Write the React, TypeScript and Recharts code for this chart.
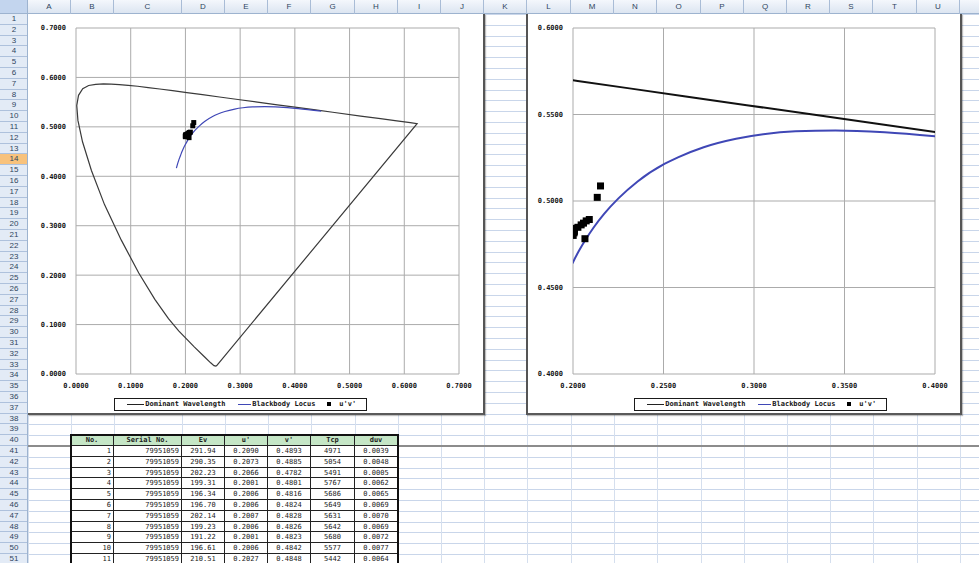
import React from 'react';
import { ScatterChart, Scatter, XAxis, YAxis, CartesianGrid, Legend } from 'recharts';

// ---- Spectral locus ("Dominant Wavelength") in CIE 1976 u'v'
const locusNm = [380, 400, 420, 430, 440, 450, 460, 465, 470, 475, 480, 485, 490, 495, 500, 505, 510, 515, 520, 525, 530, 535, 540, 545, 550, 555, 560, 565, 570, 575, 580, 585, 590, 595, 600, 605, 610, 620, 630, 640, 660, 700, 380];
const locusU = [0.2568, 0.2557, 0.2522, 0.2461, 0.2347, 0.2161, 0.1877, 0.1690, 0.1441, 0.1147, 0.0828, 0.0521, 0.0282, 0.0119, 0.0035, 0.0014, 0.0046, 0.0123, 0.0231, 0.0360, 0.0501, 0.0643, 0.0792, 0.0953, 0.1127, 0.1319, 0.1531, 0.1766, 0.2026, 0.2312, 0.2623, 0.2960, 0.3315, 0.3681, 0.4035, 0.4379, 0.4692, 0.5203, 0.5565, 0.5830, 0.6109, 0.6234, 0.2568];
const locusV = [0.0166, 0.0159, 0.0169, 0.0226, 0.0350, 0.0549, 0.0871, 0.1119, 0.1510, 0.2044, 0.2708, 0.3427, 0.4117, 0.4698, 0.5131, 0.5432, 0.5638, 0.5770, 0.5837, 0.5861, 0.5868, 0.5865, 0.5856, 0.5841, 0.5821, 0.5795, 0.5766, 0.5732, 0.5694, 0.5651, 0.5604, 0.5554, 0.5501, 0.5446, 0.5393, 0.5342, 0.5296, 0.5219, 0.5165, 0.5125, 0.5084, 0.5065, 0.0166];

// ---- Blackbody (Planckian) locus
const planckK = [20000, 15000, 12000, 10000, 9000, 8000, 7000, 6500, 6000, 5500, 5000, 4500, 4000, 3500, 3000, 2800, 2500, 2200, 2000, 1800, 1600, 1400, 1200, 1000];
const planckU = [0.1835, 0.1854, 0.1877, 0.1903, 0.1921, 0.1946, 0.1981, 0.2004, 0.2033, 0.2069, 0.2114, 0.2173, 0.2251, 0.2357, 0.2505, 0.2583, 0.2722, 0.2901, 0.3051, 0.3229, 0.3450, 0.3722, 0.4060, 0.4481];
const planckV = [0.4164, 0.4241, 0.4321, 0.4400, 0.4454, 0.4521, 0.4606, 0.4655, 0.4712, 0.4776, 0.4847, 0.4927, 0.5015, 0.5113, 0.5214, 0.5254, 0.5311, 0.5360, 0.5386, 0.5403, 0.5408, 0.5398, 0.5369, 0.5319];

// ---- Measurement table
const tableHeaders = ['No.', 'Serial No.', 'Ev', "u'", "v'", 'Tcp', 'duv'];
const tableNo = [1, 2, 3, 4, 5, 6, 7, 8, 9, 10, 11];
const tableSerial = ['79951059', '79951059', '79951059', '79951059', '79951059', '79951059', '79951059', '79951059', '79951059', '79951059', '79951059'];
const tableEv = ['291.94', '290.35', '202.23', '199.31', '196.34', '196.70', '202.14', '199.23', '191.22', '196.61', '210.51'];
const tableU = [0.2090, 0.2073, 0.2066, 0.2001, 0.2006, 0.2006, 0.2007, 0.2006, 0.2001, 0.2006, 0.2027];
const tableV = [0.4893, 0.4885, 0.4782, 0.4801, 0.4816, 0.4824, 0.4828, 0.4826, 0.4823, 0.4842, 0.4848];
const tableTcp = [4971, 5054, 5491, 5767, 5686, 5649, 5631, 5642, 5680, 5577, 5442];
const tableDuv = [0.0039, 0.0048, 0.0005, 0.0062, 0.0065, 0.0069, 0.0070, 0.0069, 0.0072, 0.0077, 0.0064];

// further samples (rows below the visible part of the table)
const extraU = [0.1997, 0.2045, 0.2058, 0.2134, 0.2152];
const extraV = [0.4812, 0.4862, 0.4872, 0.5021, 0.5087];

// ---- Axis ticks
const fullTicks = [0, 0.1, 0.2, 0.3, 0.4, 0.5, 0.6, 0.7];
const zoomXTicks = [0.2, 0.25, 0.3, 0.35, 0.4];
const zoomYTicks = [0.4, 0.45, 0.5, 0.55, 0.6];

// ---- Legend order
const legendOrder = ['Dominant Wavelength', 'Blackbody Locus', "u'v'"];

// ---- Sheet
const colLetters = ['A', 'B', 'C', 'D', 'E', 'F', 'G', 'H', 'I', 'J', 'K', 'L', 'M', 'N', 'O', 'P', 'Q', 'R', 'S', 'T', 'U'];
const colEdges = [28, 71, 114, 182, 225, 268, 311, 355, 398, 441, 484, 527, 571, 614, 657, 701, 744, 787, 830, 873, 917, 960, 1003];

const locusData = locusNm.map((nm, i) => ({ nm, u: locusU[i], v: locusV[i] }));
const planckData = planckK.map((k, i) => ({ k, u: planckU[i], v: planckV[i] }));
const pointData = [
  ...tableU.map((u, i) => ({ u, v: tableV[i] })),
  ...extraU.map((u, i) => ({ u, v: extraV[i] })),
];

const mono = "'DejaVu Sans Mono', 'Liberation Mono', monospace";
const sans = "'Liberation Sans', Arial, sans-serif";
const ROW_TOP = 14;
const ROW_H = 10.8;
const fmt = (v: number) => v.toFixed(4);
const tickStyle = { fontSize: 7, fontFamily: mono, fontWeight: 700, fill: '#151515' };
const BLUE = '#3f47b6';

const NoShape = () => <g />;

const makeSquare = (s: number) => (p: any) => (
  <rect x={p.cx - s / 2} y={p.cy - s / 2} width={s} height={s} fill="#000" />
);

const LegendBox = (props: any) => {
  const items = [...(props.payload || [])].sort(
    (a: any, b: any) => legendOrder.indexOf(a.value) - legendOrder.indexOf(b.value)
  );
  const defs = [
    { x1: 12, x2: 29, tx: 30, color: '#222' },
    { x1: 123, x2: 136, tx: 137, color: BLUE },
    { x1: 214, x2: 214, tx: 224, color: '#000' },
  ];
  return (
    <div style={{ position: 'relative', width: 253, height: 13, border: '1px solid #1a1a1a', boxSizing: 'border-box', background: '#fff', fontFamily: mono, fontSize: 7, fontWeight: 700, color: '#151515' }}>
      {items.map((it: any, i: number) => {
        const d = defs[i] || defs[0];
        return (
          <React.Fragment key={i}>
            {i < 2 ? (
              <div style={{ position: 'absolute', left: d.x1, width: d.x2 - d.x1, top: 5, height: 1, background: d.color }} />
            ) : (
              <div style={{ position: 'absolute', left: d.x1 - 2, top: 3.5, width: 4, height: 4, background: d.color }} />
            )}
            <div style={{ position: 'absolute', left: d.tx, top: 1, lineHeight: '9px', whiteSpace: 'pre' }}>{it.value}</div>
          </React.Fragment>
        );
      })}
    </div>
  );
};

type ChartProps = {
  left: number; width: number; yWidth: number; plotW: number;
  xDomain: [number, number]; yDomain: [number, number];
  xTicks: number[]; yTicks: number[];
  legendLeft: number; lineW: number; darkColor: string; marker: number;
  leftBorder: boolean;
};

const CieChart = (c: ChartProps) => (
  <div style={{ position: 'absolute', left: c.left, top: ROW_TOP, width: c.width, height: 399, background: '#fff', borderRight: '2px solid #555', borderBottom: '2px solid #5a5a5a', borderLeft: c.leftBorder ? '2px solid #555' : 'none', boxShadow: '1px 1px 1px rgba(0,0,0,0.25)', zIndex: 2 }}>
    <ScatterChart width={c.width} height={399} margin={{ top: 14, right: c.width - c.yWidth - c.plotW, bottom: 13, left: 0 }}>
      <CartesianGrid stroke="#ababab" strokeWidth={1} />
      <XAxis type="number" dataKey="u" domain={c.xDomain} ticks={c.xTicks} interval={0} allowDataOverflow axisLine={false} tickLine={false} tickSize={0} tickMargin={9.5} height={26} tick={tickStyle} tickFormatter={fmt} />
      <YAxis type="number" dataKey="v" domain={c.yDomain} ticks={c.yTicks} interval={0} allowDataOverflow axisLine={false} tickLine={false} tickSize={0} tickMargin={10} width={c.yWidth} tick={tickStyle} tickFormatter={fmt} />
      <Scatter name="Dominant Wavelength" data={locusData} fill={c.darkColor} line={{ stroke: c.darkColor, strokeWidth: c.lineW }} lineJointType="linear" shape={NoShape} legendType="line" isAnimationActive={false} />
      <Scatter name="Blackbody Locus" data={planckData} fill={BLUE} line={{ stroke: BLUE, strokeWidth: c.lineW }} lineJointType="monotoneX" shape={NoShape} legendType="line" isAnimationActive={false} />
      <Scatter name="u'v'" data={pointData} fill="#000" shape={makeSquare(c.marker)} legendType="square" isAnimationActive={false} />
      <Legend layout="horizontal" verticalAlign="middle" align="center" wrapperStyle={{ left: c.legendLeft, top: 383.7, width: 253, height: 13 }} content={LegendBox} />
    </ScatterChart>
  </div>
);

const rowTop = (r: number) => ROW_TOP + (r - 1) * ROW_H;

const SheetGrid = () => {
  const els: React.ReactNode[] = [];
  for (let r = 0; r <= 52; r++) {
    els.push(<div key={'h' + r} style={{ position: 'absolute', left: 28, width: 951, top: ROW_TOP + r * ROW_H, height: 1, background: '#c9d6ea' }} />);
  }
  colEdges.forEach((x, i) => {
    els.push(<div key={'v' + i} style={{ position: 'absolute', left: x, width: 1, top: ROW_TOP, height: 549, background: '#d5dfee' }} />);
  });
  return <>{els}</>;
};

const Headers = () => {
  const cols = colEdges.slice(0, -1).map((x, i) => (
    <div key={'c' + i} style={{ position: 'absolute', left: x, width: colEdges[i + 1] - x, top: 0, height: 14, borderRight: '1px solid #a9bcd6', boxSizing: 'border-box', textAlign: 'center', fontFamily: sans, fontSize: 8, lineHeight: '14px', color: '#2f4560' }}>{colLetters[i] || ''}</div>
  ));
  const rows: React.ReactNode[] = [];
  for (let r = 1; r <= 52; r++) {
    const sel = r === 14;
    rows.push(
      <div key={r} style={{ position: 'absolute', left: 0, width: 28, top: rowTop(r), height: ROW_H, borderBottom: '1px solid #aec1dc', boxSizing: 'border-box', background: sel ? '#f8c27c' : 'transparent', textAlign: 'center', fontFamily: sans, fontSize: 8, lineHeight: '10px', color: '#2f4560' }}>{r <= 51 ? r : ''}</div>
    );
  }
  return (
    <>
      <div style={{ position: 'absolute', left: 0, top: 0, width: 979, height: 14, background: 'linear-gradient(#f4f7fc, #dce5f1)', borderBottom: '1px solid #9db3cf', boxSizing: 'border-box', zIndex: 5 }}>
        <div style={{ position: 'absolute', left: 0, top: 0, width: 28, height: 13, background: '#c3d5ee', borderRight: '1px solid #9db3cf', boxSizing: 'border-box' }} />
        {cols}
      </div>
      <div style={{ position: 'absolute', left: 0, top: 14, width: 28, height: 549, background: '#e3ebf6', borderRight: '1px solid #9db3cf', boxSizing: 'border-box', zIndex: 5, overflow: 'hidden' }}>
        <div style={{ position: 'relative', top: -14 }}>{rows}</div>
      </div>
    </>
  );
};

const DataTable = () => {
  const widths = [0, 1, 2, 3, 4, 5, 6].map((i) => colEdges[i + 2] - colEdges[i + 1]);
  const lefts = [0, 1, 2, 3, 4, 5, 6].map((i) => colEdges[i + 1]);
  const rowsData = tableNo.map((n, i) => [String(n), tableSerial[i], tableEv[i], tableU[i].toFixed(4), tableV[i].toFixed(4), String(tableTcp[i]), tableDuv[i].toFixed(4)]);
  const aligns = ['right', 'right', 'center', 'center', 'center', 'center', 'center'];
  const cells: React.ReactNode[] = [];
  tableHeaders.forEach((h, c) => {
    cells.push(
      <div key={'hh' + c} style={{ position: 'absolute', left: lefts[c], top: rowTop(40), width: widths[c], height: ROW_H, background: '#c5e6c6', borderRight: '1px solid #222', borderBottom: '1px solid #222', boxSizing: 'border-box', textAlign: 'center', fontFamily: mono, fontSize: 7, fontWeight: 700, lineHeight: '10px', color: '#1a1a1a' }}>{h}</div>
    );
  });
  rowsData.forEach((row, r) => {
    row.forEach((val, c) => {
      cells.push(
        <div key={r + '-' + c} style={{ position: 'absolute', left: lefts[c], top: rowTop(41 + r), width: widths[c], height: ROW_H, background: '#fff', borderRight: '1px solid #222', borderBottom: '1px solid #222', boxSizing: 'border-box', textAlign: aligns[c] as any, paddingRight: aligns[c] === 'right' ? 2 : 0, fontFamily: mono, fontSize: 7, lineHeight: '10px', color: '#1a1a1a' }}>{val}</div>
      );
    });
  });
  return (
    <>
      {cells}
      <div style={{ position: 'absolute', left: 70, top: rowTop(40) - 1, width: 329, height: 140, border: '2px solid #111', boxSizing: 'border-box', pointerEvents: 'none' }} />
    </>
  );
};

export default function App() {
  return (
    <div style={{ position: 'absolute', left: 0, top: 0, width: 979, height: 563, overflow: 'hidden', background: '#fff' }}>
      <SheetGrid />
      <div style={{ position: 'absolute', left: 28, top: 445, width: 951, height: 2, background: '#8c8c8c' }} />
      <CieChart left={28} width={455} yWidth={48} plotW={383} xDomain={[0, 0.7]} yDomain={[0, 0.7]} xTicks={fullTicks} yTicks={fullTicks} legendLeft={86.3} lineW={1.2} darkColor="#3a3a3a" marker={5} leftBorder={false} />
      <CieChart left={526} width={432} yWidth={45} plotW={362} xDomain={[0.2, 0.4]} yDomain={[0.4, 0.6]} xTicks={zoomXTicks} yTicks={zoomYTicks} legendLeft={106.3} lineW={2} darkColor="#111" marker={7} leftBorder={true} />
      <DataTable />
      <Headers />
    </div>
  );
}
